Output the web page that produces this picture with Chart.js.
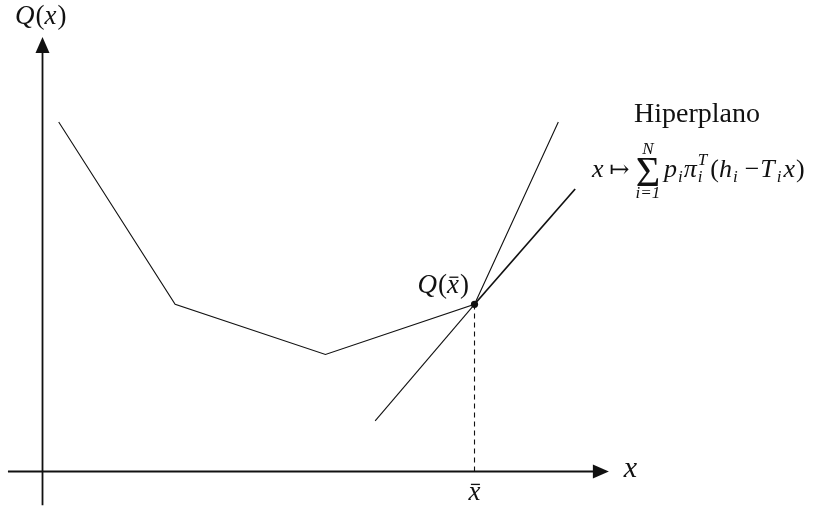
<!DOCTYPE html>
<html>
<head>
<meta charset="utf-8">
<style>
  html, body { margin: 0; padding: 0; background: #ffffff; }
  #wrap { width: 823px; height: 508px; }
</style>
<script src="https://cdn.jsdelivr.net/npm/chart.js@4.4.1/dist/chart.umd.min.js"></script>
</head>
<body>
<div id="wrap"><canvas id="c" width="823" height="508"></canvas></div>
<script>
// Piecewise linear recourse function Q(x)
const qX = [0.375, 3.07, 6.55, 10, 11.94];
const qY = [8.09, 3.87, 2.71, 3.87, 8.09];

// Supporting hyperplane through (xBar, Q(xBar))
const hypX = [7.70, 10, 12.33];
const hypY = [1.17, 3.87, 6.54];

// Evaluation point
const xBar = 10;
const qBar = 3.87;

// Axis extents (data units)
const xAxisRange = [-0.80, 13.11];
const yAxisRange = [-0.78, 10.06];

// Text labels
const labels = {
  title: 'Hiperplano'
};

const toPts = (xs, ys) => xs.map((x, i) => ({ x: x, y: ys[i] }));

const INK = '#111111';
const SERIF = '"Liberation Serif", "DejaVu Serif", serif';
const S = 27;     // label size
const F = 26;     // formula size
const SUB = 17;   // sub/superscript size

// Arrowheads and math labels
const decor = {
  id: 'decor',
  afterDatasetsDraw(chart) {
    const ctx = chart.ctx;
    const sx = chart.scales.x, sy = chart.scales.y;
    const px = v => sx.getPixelForValue(v);
    const py = v => sy.getPixelForValue(v);

    ctx.save();
    ctx.fillStyle = INK;
    // x axis arrow
    const tipX = px(xAxisRange[1]), ay = py(0);
    ctx.beginPath();
    ctx.moveTo(tipX, ay);
    ctx.lineTo(tipX - 16, ay - 7);
    ctx.lineTo(tipX - 16, ay + 7);
    ctx.closePath();
    ctx.fill();
    // y axis arrow
    const tipY = py(yAxisRange[1]), ax = px(0);
    ctx.beginPath();
    ctx.moveTo(ax, tipY);
    ctx.lineTo(ax - 7, tipY + 16);
    ctx.lineTo(ax + 7, tipY + 16);
    ctx.closePath();
    ctx.fill();

    const it = size => 'italic ' + size + 'px ' + SERIF;
    const rm = size => size + 'px ' + SERIF;
    ctx.textBaseline = 'alphabetic';
    ctx.textAlign = 'left';

    // Sequential runs: [text, font, dy, extraGapAfter, bar]
    function runs(x, y, parts) {
      let cx = x;
      parts.forEach(p => {
        ctx.font = p[1];
        const w = ctx.measureText(p[0]).width;
        ctx.fillText(p[0], cx, y + (p[2] || 0));
        if (p[4]) ctx.fillRect(cx + w * 0.2, y - S * 0.62, w * 0.75, 1.3);
        cx += w + (p[3] || 0);
      });
      return cx;
    }

    // Q(x) above the vertical axis
    runs(15, 24, [['Q', it(S), 0, 1], ['(', rm(S)], ['x', it(S), 0, 1], [')', rm(S)]]);

    // Axis label x
    runs(px(xAxisRange[1]) + 15, py(0) + 6, [['x', it(30)]]);

    // x̄ under the axis
    ctx.font = it(S);
    const wxb = ctx.measureText('x').width;
    runs(px(xBar) - wxb / 2, py(0) + 29, [['x', it(S), 0, 0, true]]);

    // Q(x̄) beside the point
    runs(px(xBar) - 57, py(qBar) - 11,
      [['Q', it(S), 0, 1], ['(', rm(S)], ['x', it(S), 0, 1, true], [')', rm(S)]]);

    // Hiperplano
    ctx.font = rm(28);
    ctx.fillText(labels.title, 634, 122);

    // x ↦ Σ_{i=1}^{N} p_i π_i^T (h_i − T_i x)
    const by = 177;
    let cx = runs(592, by, [['x', it(F), 0, 6], ['↦', rm(F - 2), 0, 6]]);
    ctx.font = rm(42);
    const sigW = ctx.measureText('Σ').width;
    ctx.fillText('Σ', cx, by + 9);
    ctx.textAlign = 'center';
    ctx.font = it(SUB);
    ctx.fillText('N', cx + sigW / 2, by - 23);
    ctx.fillText('i=1', cx + sigW / 2, by + 21);
    ctx.textAlign = 'left';
    cx += sigW + 4;
    cx = runs(cx, by, [['p', it(F), 0, 1], ['i', it(SUB), 5, 1], ['π', it(F), 0, 1]]);
    ctx.font = it(SUB);
    ctx.fillText('T', cx, by - 12);
    ctx.fillText('i', cx, by + 5);
    cx += ctx.measureText('T').width + 3;
    runs(cx, by, [['(', rm(F)], ['h', it(F), 0, 1], ['i', it(SUB), 5, 7],
      ['−', rm(F), 0, 1], ['T', it(F), 0, 2], ['i', it(SUB), 5, 2], ['x', it(F), 0, 1], [')', rm(F)]]);
    ctx.restore();
  }
};

new Chart(document.getElementById('c'), {
  type: 'scatter',
  data: {
    datasets: [
      {
        data: toPts(qX, qY),
        showLine: true, borderColor: INK, borderWidth: 1.1,
        pointRadius: 0, tension: 0
      },
      {
        data: toPts(hypX, hypY),
        showLine: true, borderColor: INK, borderWidth: 1.1,
        pointRadius: 0, tension: 0,
        segment: { borderWidth: c => (c.p0DataIndex >= 1 ? 1.7 : 1.1) }
      },
      {
        data: [{ x: xBar, y: 0 }, { x: xBar, y: qBar }],
        showLine: true, borderColor: INK, borderWidth: 1.1,
        borderDash: [5, 4], pointRadius: 0
      },
      {
        data: [{ x: xAxisRange[0], y: 0 }, { x: xAxisRange[1] - 0.3, y: 0 }],
        showLine: true, borderColor: INK, borderWidth: 1.8, pointRadius: 0
      },
      {
        data: [{ x: 0, y: yAxisRange[0] }, { x: 0, y: yAxisRange[1] - 0.3 }],
        showLine: true, borderColor: INK, borderWidth: 1.8, pointRadius: 0
      },
      {
        data: [{ x: xBar, y: qBar }],
        pointRadius: 3.6, pointBackgroundColor: INK, pointBorderWidth: 0
      }
    ]
  },
  options: {
    responsive: false,
    animation: false,
    layout: { padding: 0, autoPadding: false },
    plugins: { legend: { display: false }, tooltip: { enabled: false } },
    scales: {
      x: { type: 'linear', display: false, min: -0.984, max: 18.067 },
      y: { type: 'linear', display: false, min: -0.845, max: 10.914 }
    }
  },
  plugins: [decor]
});
</script>
</body>
</html>
